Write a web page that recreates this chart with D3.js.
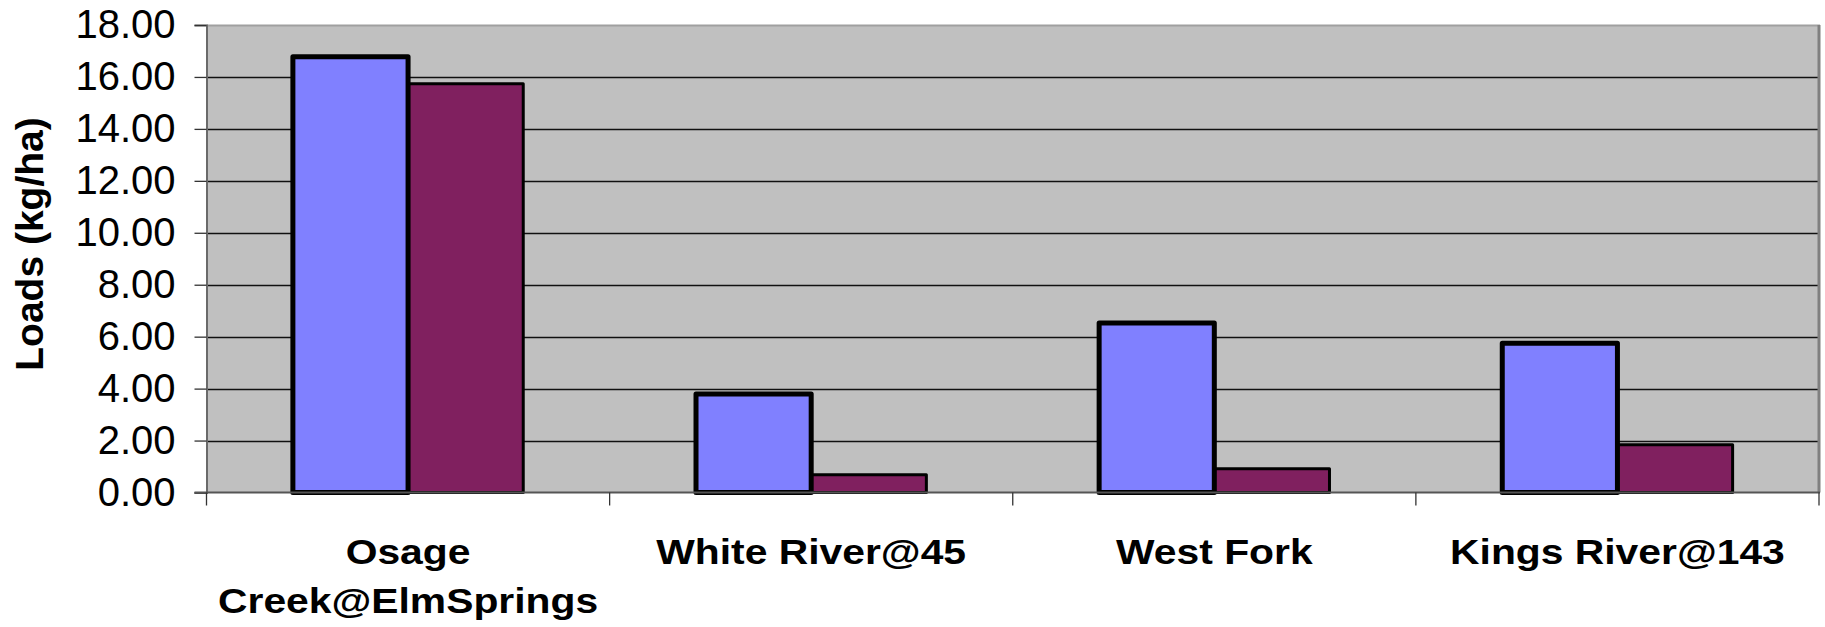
<!DOCTYPE html>
<html>
<head>
<meta charset="utf-8">
<script src="https://cdn.jsdelivr.net/npm/d3@7"></script>
<style>
  html, body { margin: 0; padding: 0; background: #ffffff; }
  svg { display: block; }
</style>
</head>
<body>
<svg id="chart" width="1825" height="627"></svg>
<script>
// ---- data ----
const categories = [["Osage", "Creek@ElmSprings"], ["White River@45"], ["West Fork"], ["Kings River@143"]];
const categoryKeys = ["Osage Creek@ElmSprings", "White River@45", "West Fork", "Kings River@143"];
const series1 = [16.78, 3.79, 6.53, 5.75];
const series2 = [15.74, 0.68, 0.91, 1.84];
const yTicks = [0, 2, 4, 6, 8, 10, 12, 14, 16, 18];
const yTitle = "Loads (kg/ha)";

// ---- layout ----
const plot = { left: 206.5, right: 1819, top: 25, bottom: 492.5 };
const svg = d3.select("#chart");

const x = d3.scaleBand().domain(categoryKeys).range([plot.left, plot.right]).padding(0);
const y = d3.scaleLinear().domain([0, 18]).range([plot.bottom, plot.top]);
const barW = x.bandwidth() / 3.5;

// plot background
svg.append("rect")
  .attr("x", plot.left).attr("y", plot.top)
  .attr("width", plot.right - plot.left).attr("height", plot.bottom - plot.top)
  .attr("fill", "#c0c0c0");

// gridlines
svg.append("g").selectAll("line")
  .data(yTicks.filter(d => d > 0 && d < 18))
  .join("line")
  .attr("x1", plot.left).attr("x2", plot.right)
  .attr("y1", d => Math.round(y(d)) + 0.5).attr("y2", d => Math.round(y(d)) + 0.5)
  .attr("stroke", "#111").attr("stroke-width", 1.3);

// plot borders
svg.append("line").attr("x1", plot.left).attr("x2", plot.right + 1)
  .attr("y1", plot.top + 0.5).attr("y2", plot.top + 0.5)
  .attr("stroke", "#a0a0a0").attr("stroke-width", 2);
svg.append("line").attr("x1", plot.right).attr("x2", plot.right)
  .attr("y1", plot.top).attr("y2", plot.bottom)
  .attr("stroke", "#808080").attr("stroke-width", 3);

// bars: series 2 first, then series 1 (thicker border on top)
const bars = svg.append("g");
bars.selectAll("rect.s2")
  .data(series2.map((v, i) => ({ k: categoryKeys[i], v })))
  .join("rect")
  .attr("class", "s2")
  .attr("x", d => x(d.k) + x.bandwidth() / 2)
  .attr("y", d => y(d.v))
  .attr("width", barW)
  .attr("height", d => y(0) - y(d.v))
  .attr("fill", "#80205f")
  .attr("stroke", "#000")
  .attr("stroke-width", 3)
  .attr("stroke-linejoin", "round");
bars.selectAll("rect.s1")
  .data(series1.map((v, i) => ({ k: categoryKeys[i], v })))
  .join("rect")
  .attr("class", "s1")
  .attr("x", d => x(d.k) + x.bandwidth() / 2 - barW)
  .attr("y", d => y(d.v))
  .attr("width", barW)
  .attr("height", d => y(0) - y(d.v))
  .attr("fill", "#8080ff")
  .attr("stroke", "#000")
  .attr("stroke-width", 5)
  .attr("stroke-linejoin", "round");

// y axis
const yAxis = d3.axisLeft(y).tickValues(yTicks).tickSize(12).tickPadding(19)
  .tickFormat(d3.format(".2f"));
const gy = svg.append("g").attr("transform", `translate(${plot.left},0)`).call(yAxis);
gy.select(".domain").attr("stroke", "#6a6a6a").attr("stroke-width", 2);
gy.selectAll(".tick line").attr("stroke", "#333").attr("stroke-width", 1.3);
gy.selectAll(".tick text")
  .attr("font-family", "'Liberation Sans', Arial, sans-serif")
  .attr("font-size", 40)
  .attr("fill", "#000")
  .attr("dy", "0.32em");

// x axis
const boundaries = categoryKeys.map(k => x(k)).concat([plot.right]);
svg.append("line").attr("x1", plot.left - 12).attr("x2", plot.right + 1)
  .attr("y1", plot.bottom).attr("y2", plot.bottom)
  .attr("stroke", "#555").attr("stroke-width", 2);
svg.append("g").selectAll("line")
  .data(boundaries)
  .join("line")
  .attr("x1", d => d).attr("x2", d => d)
  .attr("y1", plot.bottom).attr("y2", plot.bottom + 13)
  .attr("stroke", "#333").attr("stroke-width", 1.3);

// category labels
const labels = svg.append("g");
categories.forEach((lines, i) => {
  const cx = x(categoryKeys[i]) + x.bandwidth() / 2;
  lines.forEach((t, j) => {
    labels.append("text")
      .attr("transform", `translate(${cx},${564 + j * 49}) scale(1.15,1)`)
      .attr("text-anchor", "middle")
      .attr("font-family", "'Liberation Sans', Arial, sans-serif")
      .attr("font-weight", "bold")
      .attr("font-size", 35.5)
      .attr("fill", "#000")
      .text(t);
  });
});

// y title
svg.append("text")
  .attr("transform", `translate(43,244) rotate(-90)`)
  .attr("text-anchor", "middle")
  .attr("font-family", "'Liberation Sans', Arial, sans-serif")
  .attr("font-weight", "bold")
  .attr("font-size", 39)
  .attr("fill", "#000")
  .text(yTitle);
</script>
</body>
</html>
